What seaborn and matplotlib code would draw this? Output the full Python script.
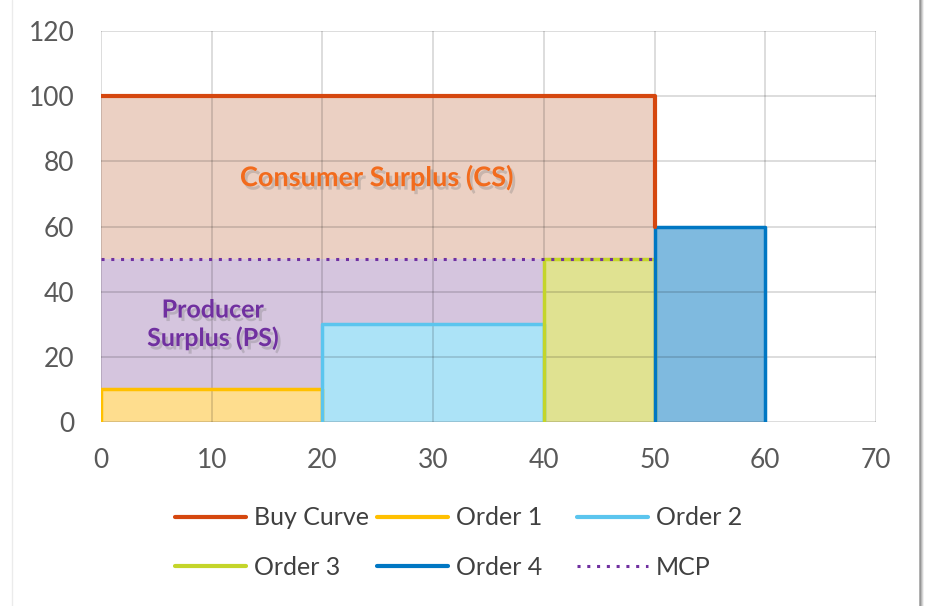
import numpy as np
import seaborn as sns
import matplotlib.pyplot as plt
import matplotlib.patheffects as pe
from matplotlib.lines import Line2D

# data
buy_x = [0, 50, 50]
buy_y = [100, 100, 60]
order_names = ["Order 1", "Order 2", "Order 3", "Order 4"]
order_start = [0, 20, 40, 50]
order_end = [20, 40, 50, 60]
order_price = [10, 30, 50, 60]
mcp_price = 50
mcp_qty = 50

buy_color = "#D5470F"
buy_fill = "#EBD0C3"
ps_fill = "#D5C5DE"
mcp_color = "#7030A0"
order_colors = ["#FFC000", "#5BC5EE", "#C4D52A", "#0077C3"]
order_fills = ["#FEDD8E", "#ACE3F7", "#E0E291", "#7FBADF"]
mcp_dash = (0, (1, 2.2))

sns.set_theme(style="white")
plt.rcParams["font.family"] = ["Lato", "DejaVu Sans"]

fig = plt.figure(figsize=(9.35, 6.06), dpi=100)
ax = fig.add_axes([0.108, 0.3036, 0.829, 0.645])

# consumer surplus area (above the MCP, under the buy curve)
ax.fill_between([buy_x[0], buy_x[1]], mcp_price, buy_y[0], color=buy_fill, lw=0, zorder=1)

# producer surplus area (between the orders and MCP)
ps_x, ps_y = [], []
for s, e, p in zip(order_start, order_end, order_price):
    if s < mcp_qty:
        ps_x += [s, e]
        ps_y += [p, p]
ax.fill_between(ps_x, ps_y, mcp_price, color=ps_fill, lw=0, zorder=1)

# order blocks
for s, e, p, c, f, n in zip(order_start, order_end, order_price,
                            order_colors, order_fills, order_names):
    ax.fill_between([s, e], 0, p, color=f, lw=0, zorder=1)
    sns.lineplot(x=[s, s, e, e], y=[0, p, p, 0], sort=False, estimator=None,
                 color=c, lw=2.5, ax=ax, zorder=4, label=n)

sns.lineplot(x=buy_x, y=buy_y, sort=False, estimator=None, color=buy_color,
             lw=3, ax=ax, zorder=5, label="Buy Curve")
sns.lineplot(x=[0, mcp_qty], y=[mcp_price, mcp_price], color=mcp_color,
             lw=2.2, ls=mcp_dash, ax=ax, zorder=6, label="MCP")
ax.get_legend().remove()

ax.set_xlim(0, 70)
ax.set_ylim(0, 120)
ax.set_xticks(np.arange(0, 71, 10))
ax.set_yticks(np.arange(0, 121, 20))
ax.set_axisbelow(False)
ax.grid(True, color="black", alpha=0.15, lw=1.3, zorder=2)
for sp in ax.spines.values():
    sp.set_visible(False)
ax.tick_params(axis="both", length=0, pad=19, labelsize=19, labelcolor="#595959")
ax.set_xlabel("")
ax.set_ylabel("")

shadow = [pe.SimplePatchShadow(offset=(2, -2.5), shadow_rgbFace="#777777", alpha=0.3), pe.Normal()]
ax.text(24.9, 75, "Consumer Surplus (CS)", color="#F26B1D", fontsize=19.5,
        fontweight="bold", ha="center", va="center", zorder=7, path_effects=shadow)
ax.text(10.1, 30, "Producer\nSurplus (PS)", color=mcp_color, fontsize=18,
        fontweight="bold", ha="center", va="center", linespacing=1.25,
        zorder=7, path_effects=shadow)

# legend: three columns of equal width like the original
columns = [["Buy Curve", "Order 3"], ["Order 1", "Order 4"], ["Order 2", "MCP"]]
col_x = [175 / 935, 377 / 935, 577 / 935]
colors = {"Buy Curve": buy_color, "MCP": mcp_color}
colors.update(dict(zip(order_names, order_colors)))
for labels, x in zip(columns, col_x):
    handles = []
    for l in labels:
        if l == "MCP":
            handles.append(Line2D([], [], color=colors[l], lw=2.2, ls=mcp_dash))
        else:
            handles.append(Line2D([], [], color=colors[l], lw=3))
    fig.legend(handles, labels, loc="center left", bbox_to_anchor=(x, 0.1045),
               frameon=False, fontsize=18, handlelength=2.85, handletextpad=0.3,
               labelspacing=1.07, borderpad=0, borderaxespad=0, labelcolor="#404040")

# chart frame edge and shadow on the right
fig.add_artist(Line2D([12 / 935, 12 / 935], [0, 1], color="#EBEBEB", lw=1))
for i, a in enumerate([0.55, 0.35, 0.2, 0.1]):
    x = (920 + i) / 935
    fig.add_artist(Line2D([x, x], [0, 1], color="#555555", alpha=a, lw=1.2))

fig.savefig("out.png", dpi=100)
